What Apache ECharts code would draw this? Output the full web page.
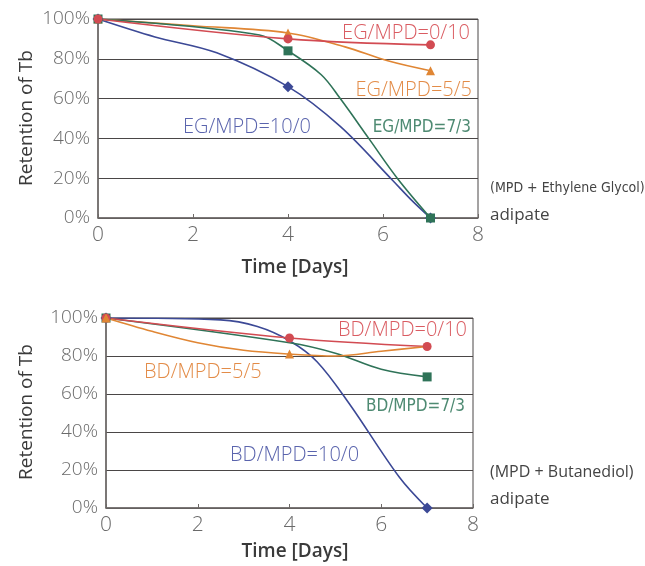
<!DOCTYPE html>
<html>
<head>
<meta charset="utf-8">
<script src="https://cdn.jsdelivr.net/npm/echarts@6/dist/echarts.min.js"></script>
<style>
  html, body { margin: 0; padding: 0; background: #fff; }
  #main { width: 645px; height: 566px; }
</style>
</head>
<body>
<div id="main"></div>
<script>
// 数据（从图上读的）
const yTicks = ['0%', '20%', '40%', '60%', '80%', '100%'];
const markedDays = [0, 4, 7];

// 上图: (MPD + Ethylene Glycol) adipate
const egBlueDays = [0, 1.2, 2.5, 4, 5.1, 6.2, 6.6, 7];
const egBlueVals = [100, 91, 83, 66, 46, 19, 9, 0];
const egOrangeDays = [0, 2, 4, 5.2, 6.1, 7];
const egOrangeVals = [100, 96.6, 93, 86, 79, 74];
const egGreenDays = [0, 3.4, 4, 4.7, 5.1, 5.7, 6.3, 7];
const egGreenVals = [100, 92, 84, 72, 60, 40, 20, 0];
const egRedDays = [0, 4, 7];
const egRedVals = [100, 90, 87];

// 下图: (MPD + Butanediol) adipate
const bdBlueDays = [0, 2.5, 3.3, 4, 4.6, 5.3, 6.4, 7];
const bdBlueVals = [100, 99, 95.5, 88, 77, 55, 16, 0];
const bdOrangeDays = [0, 1, 2, 3, 4, 5, 6, 7];
const bdOrangeVals = [100, 93, 87, 83, 81, 80, 82.5, 85];
const bdGreenDays = [0, 4, 5, 6, 7];
const bdGreenVals = [100, 87, 81.5, 73, 69];
const bdRedDays = [0, 4, 7];
const bdRedVals = [100, 89.5, 85];

const C = { blue: '#3c4996', orange: '#e08634', green: '#2f7358', red: '#d24b52' };
const T = { blue: '#5a64ad', orange: '#e38c48', green: '#4e8a72', red: '#da5c62' };

function pts(days, vals, marks) {
  return days.map((d, i) => {
    const item = { value: [d, vals[i]] };
    if (marks.indexOf(d) < 0) item.symbol = 'none';
    return item;
  });
}

function line(idx, color, symbol, days, vals, marks) {
  return {
    type: 'line', xAxisIndex: idx, yAxisIndex: idx,
    data: pts(days, vals, marks || markedDays),
    smooth: 0.35, symbol: symbol, symbolSize: symbol === 'diamond' ? 11 : 9,
    lineStyle: { color: color, width: 1.6 },
    itemStyle: { color: color },
    emphasis: { disabled: true }
  };
}

function xAx(idx) {
  return {
    type: 'value', gridIndex: idx, min: 0, max: 8, interval: 2,
    axisLine: { lineStyle: { color: '#6e6a68', width: 1.5 } },
    axisTick: { inside: true, length: 4, lineStyle: { color: '#6e6a68' } },
    axisLabel: { fontSize: 21, color: '#6a6a6a', margin: 7, fontFamily: 'Open Sans', fontWeight: 300 },
    splitLine: { show: false }
  };
}
function yAx(idx) {
  return {
    type: 'value', gridIndex: idx, min: 0, max: 100, interval: 20,
    axisLine: { show: true, lineStyle: { color: '#6e6a68', width: 1.5 } },
    axisTick: { show: false },
    axisLabel: {
      fontSize: 19, color: '#6a6a6a', margin: 8, fontFamily: 'Open Sans', fontWeight: 300,
      formatter: v => yTicks[v / 20]
    },
    splitLine: { lineStyle: { color: '#4a4646', width: 1 } }
  };
}

function txt(x, y, s, color, size, opts) {
  return Object.assign({
    type: 'text', x: x, y: y,
    style: Object.assign({
      text: s, fill: color, fontSize: size, fontFamily: 'Open Sans', fontWeight: 300,
      textAlign: 'left', textVerticalAlign: 'middle'
    }, (opts && opts.style) || {})
  }, (opts && opts.el) || {});
}
const narrow = { fontFamily: '"Liberation Sans Narrow", "DejaVu Sans Condensed", sans-serif', fontWeight: 'normal' };

const myChart = echarts.init(document.getElementById('main'), null, { renderer: 'canvas' });
myChart.setOption({
  animation: false,
  grid: [
    { left: 98, top: 19, width: 380, height: 199, show: true, borderColor: '#4a4646', borderWidth: 1 },
    { left: 106, top: 318, width: 367, height: 190, show: true, borderColor: '#4a4646', borderWidth: 1 }
  ],
  xAxis: [xAx(0), xAx(1)],
  yAxis: [yAx(0), yAx(1)],
  series: [
    line(0, C.blue, 'diamond', egBlueDays, egBlueVals),
    line(0, C.orange, 'triangle', egOrangeDays, egOrangeVals),
    line(0, C.green, 'rect', egGreenDays, egGreenVals),
    line(0, C.red, 'circle', egRedDays, egRedVals),
    line(1, C.blue, 'diamond', bdBlueDays, bdBlueVals, [0, 7]),
    line(1, C.green, 'rect', bdGreenDays, bdGreenVals, [0, 7]),
    line(1, C.red, 'circle', bdRedDays, bdRedVals),
    line(1, C.orange, 'triangle', bdOrangeDays, bdOrangeVals, [0, 4])
  ],
  graphic: [
    // 上图文字
    txt(470, 33, 'EG/MPD=0/10', T.red, 20, { style: { textAlign: 'right' } }),
    txt(472, 90, 'EG/MPD=5/5', T.orange, 20, { style: { textAlign: 'right' } }),
    txt(471, 128, 'EG/MPD=7/3', T.green, 17, { style: Object.assign({ textAlign: 'right' }, narrow) }),
    txt(183, 127, 'EG/MPD=10/0', T.blue, 20),
    txt(490, 188, '(MPD + Ethylene Glycol)', '#444', 14, { style: narrow }),
    txt(490, 215, 'adipate', '#444', 17, { style: { fontWeight: 'normal' } }),
    txt(27, 118, 'Retention of Tb', '#3a3a3a', 19, { el: { rotation: Math.PI / 2 }, style: { textAlign: 'center', fontWeight: 500 } }),
    txt(295, 268, 'Time [Days]', '#3a3a3a', 19, { style: { textAlign: 'center', fontWeight: 600 } }),
    // 下图文字
    txt(467, 330, 'BD/MPD=0/10', T.red, 20, { style: { textAlign: 'right' } }),
    txt(144, 372, 'BD/MPD=5/5', T.orange, 20),
    txt(465, 407, 'BD/MPD=7/3', T.green, 17, { style: Object.assign({ textAlign: 'right' }, narrow) }),
    txt(230, 455, 'BD/MPD=10/0', T.blue, 20),
    txt(490, 472, '(MPD + Butanediol)', '#444', 16, { style: { fontWeight: 'normal' } }),
    txt(490, 499, 'adipate', '#444', 17, { style: { fontWeight: 'normal' } }),
    txt(27, 412, 'Retention of Tb', '#3a3a3a', 19, { el: { rotation: Math.PI / 2 }, style: { textAlign: 'center', fontWeight: 500 } }),
    txt(295, 552, 'Time [Days]', '#3a3a3a', 19, { style: { textAlign: 'center', fontWeight: 600 } })
  ]
});
</script>
</body>
</html>
